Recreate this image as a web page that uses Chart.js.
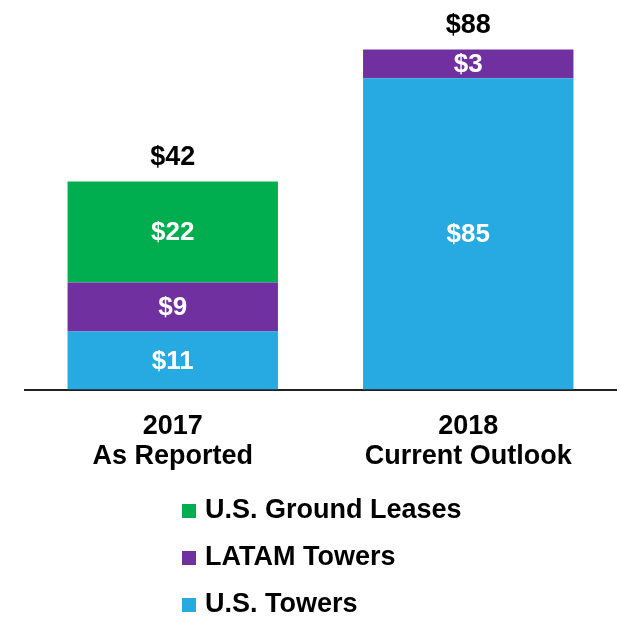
<!DOCTYPE html>
<html>
<head>
<meta charset="utf-8">
<script src="https://cdn.jsdelivr.net/npm/chart.js@4.4.1/dist/chart.umd.min.js"></script>
<style>
    html, body { margin: 0; padding: 0; background: #fff; }
    #wrap { width: 620px; height: 617px; }
</style>
</head>
<body>
<div id="wrap"><canvas id="rev_chart"></canvas></div>
<script>
const categories = [["2017", "As Reported"], ["2018", "Current Outlook"]];
const seriesNames = ["U.S. Towers", "LATAM Towers", "U.S. Ground Leases"];
const seriesColors = ["#27A9E1", "#7030A0", "#00AE4F"];

// values printed on the slide
const usTowers = [11, 85];
const latamTowers = [9, 3];
const groundLeases = [22, null];
const totals = [42, 88];

// segment heights as drawn (the slide is not drawn to scale)
const usTowersHeight = [15.0, 80.5];
const latamTowersHeight = [12.7, 7.5];
const groundLeasesHeight = [26.1, null];

const printed = [usTowers, latamTowers, groundLeases];
const heights = [usTowersHeight, latamTowersHeight, groundLeasesHeight];
const FONT = "'Liberation Sans', Arial, sans-serif";

const valueLabels = {
    id: "valueLabels",
    afterDatasetsDraw(chart) {
        const ctx = chart.ctx;
        ctx.save();
        ctx.textAlign = "center";
        ctx.textBaseline = "middle";
        ctx.font = "bold 26px " + FONT;
        chart.data.datasets.forEach((ds, i) => {
            const meta = chart.getDatasetMeta(i);
            meta.data.forEach((bar, j) => {
                if (printed[i][j] == null) return;
                const { x, y, base } = bar.getProps(["x", "y", "base"], true);
                ctx.fillStyle = "#fff";
                ctx.fillText("$" + printed[i][j], x, (y + base) / 2 + 1);
            });
        });
        // totals above each stack
        const yScale = chart.scales.y;
        const xScale = chart.scales.x;
        ctx.font = "bold 27px " + FONT;
        totals.forEach((t, j) => {
            let top = 0;
            heights.forEach(h => { top += h[j] || 0; });
            const py = yScale.getPixelForValue(top);
            ctx.fillStyle = "#000";
            ctx.fillText("$" + t, xScale.getPixelForValue(j), py - 24);
        });
        ctx.restore();
    }
};

const stackedLegend = {
    id: "stackedLegend",
    afterDraw(chart) {
        const ctx = chart.ctx;
        ctx.save();
        ctx.font = "bold 27px " + FONT;
        ctx.textBaseline = "middle";
        ctx.textAlign = "left";
        const order = [2, 1, 0];
        order.forEach((i, k) => {
            const rowY = 511 + k * 47;
            ctx.fillStyle = seriesColors[i];
            ctx.fillRect(182, rowY - 7, 14, 14);
            ctx.fillStyle = "#000";
            ctx.fillText(seriesNames[i], 205, rowY);
        });
        ctx.restore();
    }
};

new Chart(document.querySelector("#rev_chart"), {
    type: "bar",
    data: {
        labels: categories,
        datasets: seriesNames.map((name, i) => ({
            label: name,
            data: heights[i],
            backgroundColor: seriesColors[i],
            borderWidth: 0,
            barPercentage: 0.712,
            categoryPercentage: 1.0
        }))
    },
    options: {
        responsive: true,
        maintainAspectRatio: false,
        animation: false,
        layout: { padding: { top: 3, left: 25, right: 4, bottom: 131 } },
        scales: {
            x: {
                stacked: true,
                grid: { display: false },
                border: { display: true, color: "#222", width: 2 },
                ticks: {
                    color: "#000",
                    padding: 14,
                    font: { family: FONT, size: 27, weight: "bold", lineHeight: 1.12 }
                }
            },
            y: {
                stacked: true,
                display: false,
                min: 0,
                max: 100
            }
        },
        plugins: {
            legend: { display: false },
            tooltip: { enabled: false }
        }
    },
    plugins: [valueLabels, stackedLegend]
});
</script>
</body>
</html>
